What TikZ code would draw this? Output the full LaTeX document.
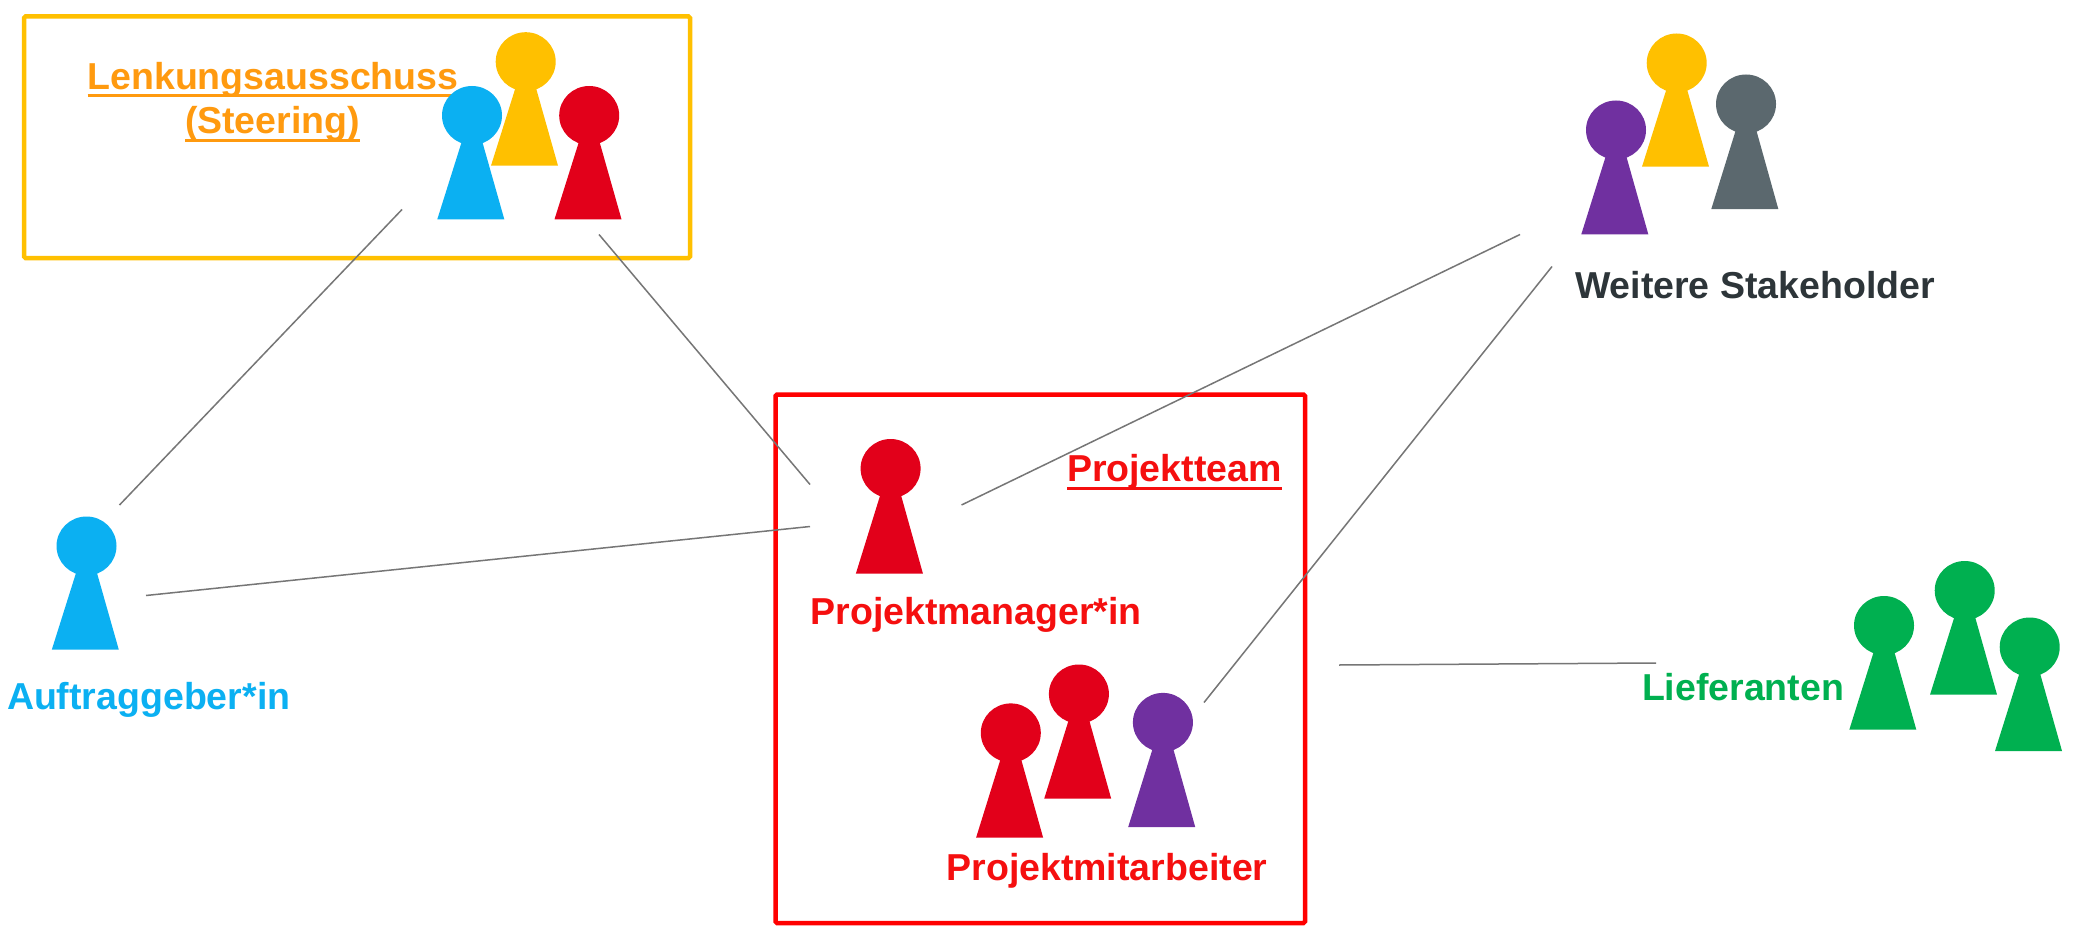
\documentclass[tikz,border=0pt]{standalone}
\usepackage{fontspec}
\setmainfont{Liberation Sans}
\definecolor{cBlue}{HTML}{0BB0F2}
\definecolor{cYellow}{HTML}{FFC000}
\definecolor{cRed}{HTML}{E2001A}
\definecolor{cPurple}{HTML}{7030A0}
\definecolor{cGray}{HTML}{5B686E}
\definecolor{cGreen}{HTML}{00B050}
\definecolor{tOrange}{HTML}{FF9A0F}
\definecolor{tRed}{HTML}{F50F0F}
\definecolor{tDark}{HTML}{2D3539}
\definecolor{lineGray}{HTML}{767676}
\newcommand\ulbase[1]{\setbox0\hbox{#1}\rlap{\vrule width\wd0 height -5pt depth 8pt}\box0}
\newcommand\pawn[4]{%
  \fill[#4] (#1-34.7,#3) -- (#1-10.5,#2+27) -- (#1+10.5,#2+27) -- (#1+32.3,#3) -- cycle;
  \fill[#4] (#1,#2) ellipse [x radius=30, y radius=29.5];
}
\tikzset{
  lbl/.style={anchor=base west, inner sep=0pt, outer sep=0pt, font=\fontsize{37.5}{44}\selectfont\bfseries},
  conn/.style={draw=lineGray, line width=1.5pt},
  frame/.style={line width=4.5pt, rounded corners=1.5pt},
}
\begin{document}
\begin{tikzpicture}[x=1pt,y=-1pt]
\useasboundingbox (0,0) rectangle (2076,944);
\fill[white] (0,0) rectangle (2076,944);
% frames
\draw[frame, draw=cYellow] (24,16.5) rectangle (690,258);
\draw[frame, draw=red] (775.5,394.5) rectangle (1305,923);
% connector ends
\coordinate (agS) at (119.5,505);
\coordinate (sA) at (402,209.5);
\coordinate (sP) at (599,234.5);
\coordinate (pS) at (810,484.5);
\coordinate (agP) at (146,595.5);
\coordinate (pA) at (810,526.5);
\coordinate (pW) at (961.5,505);
\coordinate (wP) at (1520,234.5);
\coordinate (mW) at (1204,702.5);
\coordinate (wM) at (1552,266.5);
\coordinate (tL) at (1339,665);
\coordinate (lT) at (1656,663);
\draw[conn] (agS) -- (sA);
\draw[conn] (sP) -- (pS);
\draw[conn] (agP) -- (pA);
\draw[conn] (pW) -- (wP);
\draw[conn] (mW) -- (wM);
\draw[conn] (tL) -- (lT);
% labels
\node[lbl, text=tOrange] (lenk) at (87.5,89.3) {\ulbase{Lenkungsausschuss}};
\node[lbl, text=tOrange] (steer) at (185,134) {\ulbase{(Steering)}};
\node[lbl, text=tRed] (team) at (1067,481.8) {\ulbase{Projektteam}};
\node[lbl, text=tRed] (pm) at (810.5,624.6) {Projektmanager*in};
\node[lbl, text=tRed] (pma) at (946.5,880) {Projektmitarbeiter};
\node[lbl, text=tDark] (wst) at (1575,298) {Weitere Stakeholder};
\node[lbl, text=cGreen] (lief) at (1642,700) {Lieferanten};
\node[lbl, text=cBlue] (ag) at (7,709) {Auftraggeber*in};
% pawns
\pawn{525.7}{61.7}{165.7}{cYellow}
\pawn{472}{115.5}{219.3}{cBlue}
\pawn{589.2}{115.5}{219.3}{cRed}
\pawn{890.6}{468.5}{573.5}{cRed}
\pawn{1010.8}{732.9}{837.6}{cRed}
\pawn{1078.9}{694}{798.7}{cRed}
\pawn{1162.9}{722.4}{827}{cPurple}
\pawn{1676.7}{63}{166.7}{cYellow}
\pawn{1616}{130}{234.3}{cPurple}
\pawn{1746}{104}{209}{cGray}
\pawn{1884}{625.5}{729.7}{cGreen}
\pawn{1964.7}{590.5}{694.7}{cGreen}
\pawn{2029.7}{647}{751}{cGreen}
\pawn{86.5}{546}{649.7}{cBlue}
\end{tikzpicture}
\end{document}
